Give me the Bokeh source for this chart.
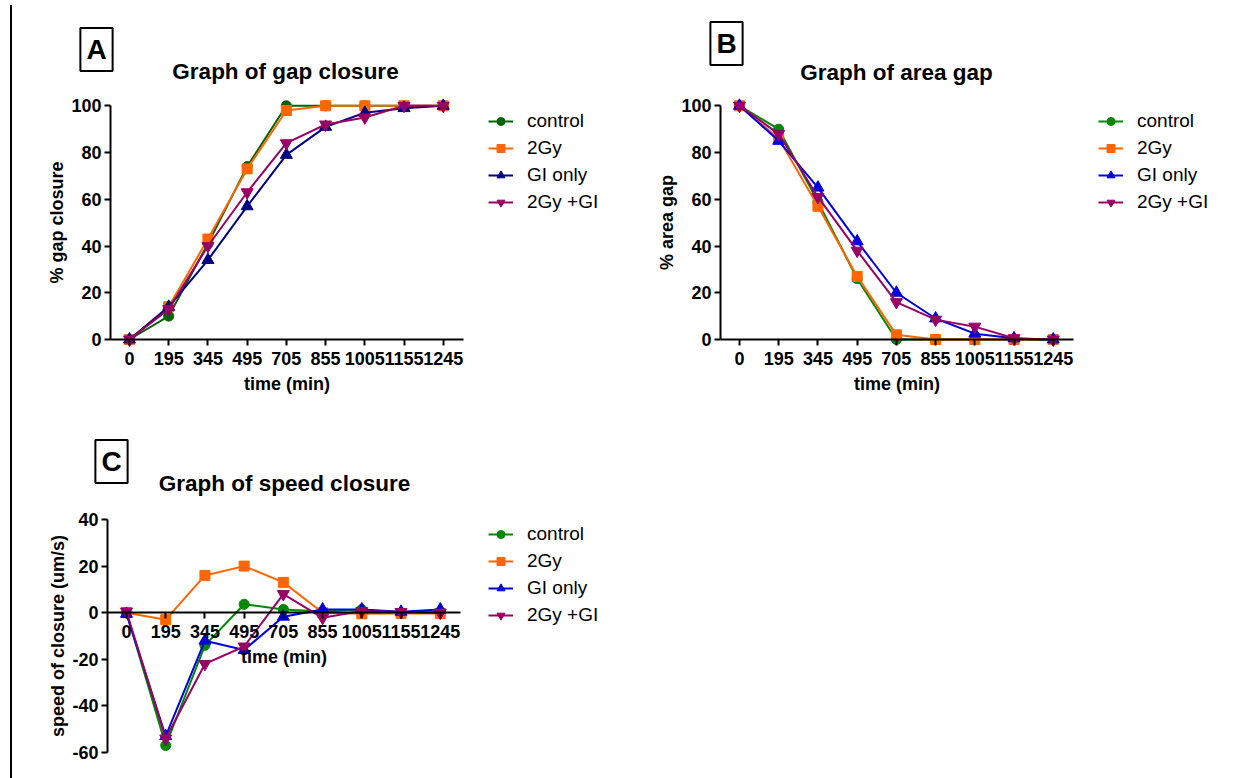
from bokeh.plotting import figure
from bokeh.models import Range1d, FixedTicker, Label, Legend, LegendItem, Div
from bokeh.layouts import row, column
from bokeh.embed import file_html
from bokeh.resources import INLINE

# ---------------- data ----------------
times = ["0", "195", "345", "495", "705", "855", "1005", "1155", "1245"]
series_names = ["control", "2Gy", "GI only", "2Gy +GI"]

gap_control = [0, 10, 41, 74, 100, 100, 100, 100, 100]
gap_2gy = [0, 14, 43, 73, 98, 100, 100, 100, 100]
gap_gi = [0, 14, 34, 57, 79, 91, 97, 99, 100]
gap_2gygi = [0, 13, 40, 63, 84, 92, 95, 100, 100]

area_control = [100, 90, 59, 26, 0, 0, 0, 0, 0]
area_2gy = [100, 86, 57, 27, 2, 0, 0, 0, 0]
area_gi = [100, 85, 65, 42, 20, 9, 2.5, 0.5, 0]
area_2gygi = [100, 88, 61, 38, 16, 8.5, 5.5, 0.5, 0]

speed_control = [0, -57, -14, 3.6, 1.4, 0.5, 1.4, 0, 0]
speed_2gy = [0, -3, 16, 20, 13, 0, -0.5, -0.3, -0.3]
speed_gi = [-0.5, -53, -12, -16, -1.7, 1.4, 1.4, 0.4, 1.4]
speed_2gygi = [0.5, -54, -22, -14.5, 8, -2.2, 0.7, 0.3, 0]

gap_ticks = [0, 20, 40, 60, 80, 100]
speed_ticks = [-60, -40, -20, 0, 20, 40]

markers = ["circle", "square", "triangle", "inverted_triangle"]
marker_sizes = [10, 10, 12, 12]
colors_A = ["#006400", "#FF6600", "#000080", "#990066"]
colors_BC = ["#008800", "#FF6600", "#0000DD", "#990066"]

FONT = "Liberation Sans"
X_LO, X_HI = -0.484, 8.516   # axis extent in category-index units


def extrapolate(px_a, val_a, px_b, val_b, size):
    """value at pixel 0 and at pixel `size` for a linear pixel->value map"""
    k = (val_b - val_a) / (px_b - px_a)
    return val_a + (0 - px_a) * k, val_a + (size - px_a) * k


def make_panel(width, height, xpx, ypx, ybounds, yticks, ylabel, series,
               colors, title, letter, title_xy, letter_xy, legend_xy):
    x0, x1 = extrapolate(xpx[0], X_LO, xpx[1], X_HI, width)
    ytop, ybot = extrapolate(ypx[0], ybounds[1], ypx[1], ybounds[0], height)
    p = figure(width=width, height=height, title=None,
               x_range=Range1d(x0, x1), y_range=Range1d(ybot, ytop),
               output_backend="svg", toolbar_location=None,
               min_border_left=0, min_border_right=0,
               min_border_top=0, min_border_bottom=0)
    p.xgrid.visible = False
    p.ygrid.visible = False
    p.outline_line_color = None
    p.background_fill_color = "white"
    p.border_fill_color = "white"

    xs = list(range(len(times)))
    items = []
    for name, vals, m, ms, c in zip(series_names, series, markers, marker_sizes, colors):
        r1 = p.line(xs, vals, line_color=c, line_width=2)
        r2 = p.scatter(xs, vals, marker=m, size=ms, fill_color=c, line_color=c)
        items.append(LegendItem(label=name, renderers=[r1, r2]))

    legend = Legend(items=items, location=legend_xy, padding=0, margin=0,
                    border_line_color=None, background_fill_alpha=0,
                    glyph_width=25, glyph_height=20, label_height=20,
                    label_standoff=14, spacing=5,
                    label_text_font=FONT, label_text_font_size="19px",
                    label_text_color="black")
    p.add_layout(legend, "center")

    xa = p.xaxis[0]
    xa.fixed_location = 0
    xa.bounds = (X_LO, X_HI)
    xa.ticker = FixedTicker(ticks=xs)
    xa.major_label_overrides = {i: t for i, t in enumerate(times)}
    ya = p.yaxis[0]
    ya.fixed_location = X_LO
    ya.ticker = FixedTicker(ticks=yticks)
    ya.major_label_overrides = {t: str(t) for t in yticks}
    ya.bounds = ybounds
    ya.axis_label = ylabel
    xa.axis_label = "time (min)"
    for ax in (xa, ya):
        ax.axis_line_width = 2
        ax.axis_line_color = "black"
        ax.major_tick_line_width = 2
        ax.major_tick_line_color = "black"
        ax.major_tick_in = 0
        ax.major_tick_out = 6
        ax.minor_tick_line_color = None
        ax.major_label_text_font = FONT
        ax.major_label_text_font_style = "bold"
        ax.major_label_text_font_size = "18px"
        ax.major_label_text_color = "black"
        ax.axis_label_text_font = FONT
        ax.axis_label_text_font_style = "bold"
        ax.axis_label_text_font_size = "18px"
        ax.axis_label_text_color = "black"
    xa.major_label_standoff = 6
    xa.axis_label_standoff = 6
    ya.major_label_standoff = 3
    ya.axis_label_standoff = 1

    p.add_layout(Label(x=title_xy[0], y=title_xy[1], x_units="screen", y_units="screen",
                       text=title, text_font=FONT, text_font_style="bold",
                       text_font_size="22.5px", text_align="center",
                       text_baseline="middle", text_color="black"))
    p.add_layout(Label(x=letter_xy[0], y=letter_xy[1], x_units="screen", y_units="screen",
                       text=letter, text_font=FONT, text_font_style="bold",
                       text_font_size="28px", text_align="center",
                       text_baseline="middle", text_color="black",
                       border_line_color="black", border_line_width=2,
                       padding=6))
    return p


pA = make_panel(610, 400, (98, 451), (105.3, 339), (0, 100), gap_ticks,
                "% gap closure",
                [gap_control, gap_2gy, gap_gi, gap_2gygi], colors_A,
                "Graph of gap closure", "A", (273, 329), (84, 351), (476, 187))

pB = make_panel(616, 400, (98, 451), (105.3, 339), (0, 100), gap_ticks,
                "% area gap",
                [area_control, area_2gy, area_gi, area_2gygi], colors_BC,
                "Graph of area gap", "B", (274, 328), (104, 357), (476, 187))

pC = make_panel(610, 378, (95, 448), (119, 352), (-60, 40), speed_ticks,
                "speed of closure (um/s)",
                [speed_control, speed_2gy, speed_gi, speed_2gygi], colors_BC,
                "Graph of speed closure", "C", (272, 295), (99, 317), (476, 152))

div = Div(text="", width=12, height=773, margin=(5, 0, 0, 0),
          styles={"border-right": "2px solid black", "box-sizing": "border-box"})

layout = row(div, column(row(pA, pB), pC))

open("out.html", "w").write(file_html(layout, INLINE))
